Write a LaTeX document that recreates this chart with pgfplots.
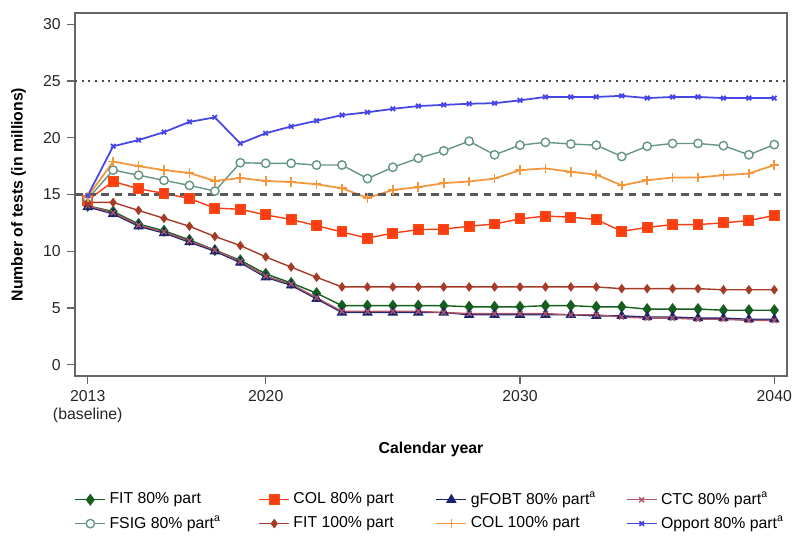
\documentclass[border=0pt]{standalone}
\usepackage{pgfplots}
\pgfplotsset{compat=1.18}
\usepackage{fontspec}
\setmainfont{Liberation Sans}

\definecolor{fitgreen}{RGB}{20,95,30}
\definecolor{colred}{RGB}{250,60,20}
\definecolor{gfobtnavy}{RGB}{25,35,110}
\definecolor{ctcpink}{RGB}{175,85,105}
\definecolor{fsigteal}{RGB}{100,150,130}
\definecolor{fitbrown}{RGB}{165,60,40}
\definecolor{colorange}{RGB}{245,150,60}
\definecolor{oppblue}{RGB}{70,70,230}

\begin{document}
\begin{tikzpicture}
\begin{axis}[
    scale only axis,
    width=14.24cm,
    height=7.26cm,
    xmin=2012.5, xmax=2040.5,
    ymin=-1, ymax=31,
    xtick={2013,2020,2030,2040},
    xticklabels={{2013\\(baseline)},2020,2030,2040},
    x tick label style={align=center},
    ytick={0,5,10,15,20,25,30},
    tick align=outside,
    tick pos=left,
    major tick length=0.16cm,
    axis line style={black!60, line width=1pt},
    tick style={black!60, line width=0.8pt},
    font=\fontsize{9}{10.5}\selectfont,
    tick label style={black!85},
    /pgf/number format/assume math mode=true,
    xlabel={\bfseries Calendar year},
    ylabel={\bfseries Number of tests (in millions)},
    xlabel style={yshift=-4pt},
    ylabel style={yshift=3pt},
    legend columns=4,
    legend cell align=left,
    legend style={at={(0.5,-0.30)}, anchor=north, draw=none, fill=none,
        font=\fontsize{9}{10.5}\selectfont, row sep=1pt,
        /tikz/every even column/.append style={column sep=0pt}},
    every axis plot/.append style={line width=0.8pt},
]
% FIT 80% part
\addplot[fitgreen, mark=diamond*, mark size=2.8pt, mark options={fill=fitgreen}] coordinates {
(2013,14.0)(2014,13.5)(2015,12.4)(2016,11.8)(2017,11.0)(2018,10.1)(2019,9.2)(2020,8.0)
(2021,7.2)(2022,6.3)(2023,5.2)(2024,5.2)(2025,5.2)(2026,5.2)(2027,5.2)(2028,5.1)
(2029,5.1)(2030,5.1)(2031,5.2)(2032,5.2)(2033,5.1)(2034,5.1)(2035,4.9)(2036,4.9)
(2037,4.9)(2038,4.8)(2039,4.8)(2040,4.8)};
\addlegendentry{\makebox[2.91cm][l]{FIT 80\% part}}
% COL 80% part
\addplot[colred, mark=square*, mark size=2.7pt, mark options={fill=colred, draw=colred!80!orange}] coordinates {
(2013,14.5)(2014,16.15)(2015,15.5)(2016,15.1)(2017,14.65)(2018,13.8)(2019,13.7)(2020,13.2)
(2021,12.8)(2022,12.25)(2023,11.7)(2024,11.15)(2025,11.6)(2026,11.9)(2027,11.95)(2028,12.2)
(2029,12.4)(2030,12.85)(2031,13.1)(2032,13.0)(2033,12.8)(2034,11.75)(2035,12.1)(2036,12.35)
(2037,12.35)(2038,12.5)(2039,12.7)(2040,13.15)};
\addlegendentry{\makebox[2.77cm][l]{COL 80\% part}}
% gFOBT 80% part
\addplot[gfobtnavy, mark=triangle*, mark size=2.7pt, mark options={fill=gfobtnavy}] coordinates {
(2013,13.9)(2014,13.3)(2015,12.2)(2016,11.6)(2017,10.8)(2018,10.0)(2019,9.0)(2020,7.7)
(2021,7.0)(2022,5.8)(2023,4.6)(2024,4.6)(2025,4.6)(2026,4.6)(2027,4.6)(2028,4.4)
(2029,4.4)(2030,4.4)(2031,4.4)(2032,4.4)(2033,4.3)(2034,4.3)(2035,4.2)(2036,4.2)
(2037,4.1)(2038,4.1)(2039,4.0)(2040,4.0)};
\addlegendentry{\makebox[3.03cm][l]{gFOBT 80\% part\textsuperscript{a}}}
% CTC 80% part
\addplot[ctcpink, mark=x, mark size=2pt] coordinates {
(2013,14.0)(2014,13.4)(2015,12.3)(2016,11.7)(2017,10.9)(2018,10.1)(2019,9.1)(2020,7.8)
(2021,7.1)(2022,5.9)(2023,4.7)(2024,4.7)(2025,4.7)(2026,4.7)(2027,4.6)(2028,4.5)
(2029,4.5)(2030,4.5)(2031,4.5)(2032,4.4)(2033,4.4)(2034,4.2)(2035,4.1)(2036,4.1)
(2037,4.0)(2038,4.0)(2039,3.9)(2040,3.9)};
\addlegendentry{CTC 80\% part\textsuperscript{a}}
% FSIG 80% part
\addplot[fsigteal, mark=*, mark size=2.4pt, mark options={fill=white}] coordinates {
(2013,14.6)(2014,17.15)(2015,16.7)(2016,16.25)(2017,15.8)(2018,15.3)(2019,17.8)(2020,17.75)
(2021,17.75)(2022,17.6)(2023,17.6)(2024,16.4)(2025,17.4)(2026,18.2)(2027,18.85)(2028,19.7)
(2029,18.5)(2030,19.35)(2031,19.6)(2032,19.45)(2033,19.35)(2034,18.35)(2035,19.25)(2036,19.5)
(2037,19.5)(2038,19.3)(2039,18.5)(2040,19.4)};
\addlegendentry{\makebox[2.91cm][l]{FSIG 80\% part\textsuperscript{a}}}
% FIT 100% part
\addplot[fitbrown, mark=diamond*, mark size=2.1pt, mark options={fill=fitbrown}] coordinates {
(2013,14.3)(2014,14.3)(2015,13.6)(2016,12.9)(2017,12.2)(2018,11.3)(2019,10.5)(2020,9.5)
(2021,8.6)(2022,7.7)(2023,6.85)(2024,6.85)(2025,6.85)(2026,6.85)(2027,6.85)(2028,6.85)
(2029,6.85)(2030,6.85)(2031,6.85)(2032,6.85)(2033,6.85)(2034,6.7)(2035,6.7)(2036,6.7)
(2037,6.7)(2038,6.6)(2039,6.6)(2040,6.6)};
\addlegendentry{\makebox[2.77cm][l]{FIT 100\% part}}
% COL 100% part
\addplot[colorange, line width=1pt, mark=+, mark size=2.7pt] coordinates {
(2013,14.8)(2014,17.9)(2015,17.5)(2016,17.15)(2017,16.9)(2018,16.2)(2019,16.45)(2020,16.2)
(2021,16.1)(2022,15.9)(2023,15.55)(2024,14.7)(2025,15.4)(2026,15.65)(2027,16.0)(2028,16.15)
(2029,16.4)(2030,17.15)(2031,17.3)(2032,17.0)(2033,16.75)(2034,15.8)(2035,16.25)(2036,16.5)
(2037,16.5)(2038,16.7)(2039,16.85)(2040,17.6)};
\addlegendentry{\makebox[3.03cm][l]{COL 100\% part}}
% Opport 80% part
\addplot[oppblue, line width=1pt, mark=x, mark size=1.8pt] coordinates {
(2013,14.9)(2014,19.25)(2015,19.8)(2016,20.5)(2017,21.4)(2018,21.8)(2019,19.5)(2020,20.4)
(2021,21.0)(2022,21.5)(2023,22.0)(2024,22.25)(2025,22.55)(2026,22.8)(2027,22.9)(2028,23.0)
(2029,23.05)(2030,23.3)(2031,23.6)(2032,23.6)(2033,23.6)(2034,23.7)(2035,23.5)(2036,23.6)
(2037,23.6)(2038,23.5)(2039,23.5)(2040,23.5)};
\addlegendentry{Opport 80\% part\textsuperscript{a}}
% reference lines
\addplot[black!70, line width=1.2pt, dash pattern=on 1.2pt off 2.6pt, forget plot] coordinates {(2012.5,25)(2040.5,25)};
\addplot[black!65, line width=1.2pt, dash pattern=on 4.5pt off 3pt, forget plot] coordinates {(2012.5,15)(2040.5,15)};
\end{axis}
\pgfresetboundingbox
\path (-1.5,-3.28) rectangle (14.5,7.52);
\end{tikzpicture}
\end{document}
